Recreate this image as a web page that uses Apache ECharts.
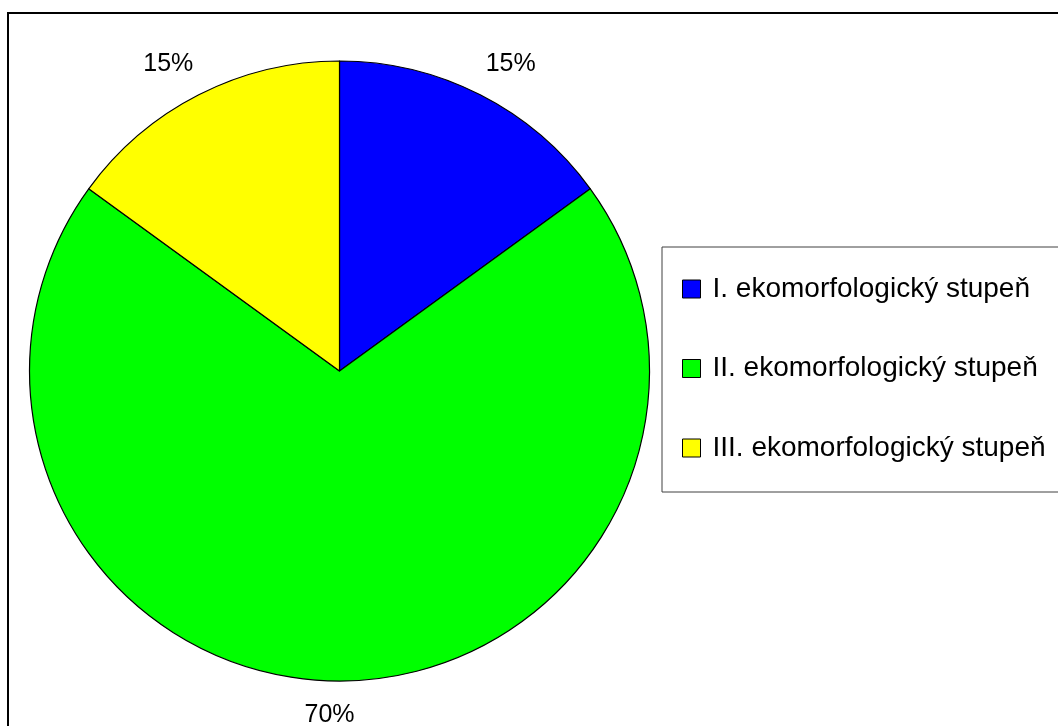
<!DOCTYPE html>
<html>
<head>
<meta charset="utf-8">
<script src="https://cdn.jsdelivr.net/npm/echarts@6/dist/echarts.min.js"></script>
<style>
html,body{margin:0;padding:0;background:#fff;}
#chart{width:1058px;height:726px;}
</style>
</head>
<body>
<div id="chart"></div>
<script>
const categories = ['I. ekomorfologický stupeň', 'II. ekomorfologický stupeň', 'III. ekomorfologický stupeň'];
const values = [15, 70, 15];
const colors = ['#0000FF', '#00FF00', '#FFFF00'];

const chart = echarts.init(document.getElementById('chart'), null, {renderer: 'canvas'});
const data = categories.map((c, i) => ({name: c, value: values[i], itemStyle: {color: colors[i]}}));
const pieCenter = [339.5, 371];

chart.setOption({
  backgroundColor: '#ffffff',
  animation: false,
  graphic: [{
    type: 'rect',
    shape: {x: 8, y: 13, width: 1200, height: 900},
    style: {fill: 'none', stroke: '#000', lineWidth: 2},
    z: 100
  }],
  legend: {
    orient: 'vertical',
    left: 662,
    top: 247,
    padding: [28, 200, 30, 20],
    itemGap: 51.5,
    itemWidth: 18,
    itemHeight: 18,
    borderColor: '#404040',
    borderWidth: 1,
    icon: 'rect',
    itemStyle: {borderColor: '#000', borderWidth: 1},
    textStyle: {fontFamily: 'Liberation Sans', fontSize: 28, color: '#000', lineHeight: 28, padding: [0, 0, 0, 7]},
    data: categories
  },
  series: [{
    type: 'pie',
    center: pieCenter,
    radius: [0, 310],
    startAngle: 90,
    clockwise: true,
    avoidLabelOverlap: false,
    data: data,
    itemStyle: {borderColor: '#000', borderWidth: 1.2},
    label: {
      show: true,
      position: 'outside',
      formatter: '{d}%',
      fontFamily: 'Liberation Sans',
      fontSize: 25,
      color: '#000',
      distanceToLabelLine: -10
    },
    labelLine: {show: false, length: 34, length2: 0},
    labelLayout: function (p) {
      const mid = p.labelRect.x + p.labelRect.width / 2;
      if (Math.abs(mid - pieCenter[0]) < 40) {
        return {align: 'center'};
      }
      return {};
    },
    emphasis: {disabled: true}
  }]
});
</script>
</body>
</html>
